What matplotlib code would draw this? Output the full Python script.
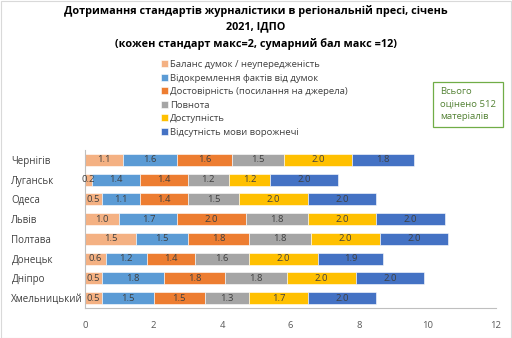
import matplotlib
matplotlib.use("Agg")
import matplotlib.pyplot as plt
from matplotlib.patches import Rectangle

cities = ["Чернігів", "Луганськ", "Одеса", "Львів", "Полтава", "Донецьк", "Дніпро", "Хмельницький"]
series_names = ["Баланс думок / неупередженість", "Відокремлення фактів від думок",
                "Достовірність (посилання на джерела)", "Повнота", "Доступність",
                "Відсутність мови ворожнечі"]
balance = [1.1, 0.2, 0.5, 1.0, 1.5, 0.6, 0.5, 0.5]
separation = [1.6, 1.4, 1.1, 1.7, 1.5, 1.2, 1.8, 1.5]
reliability = [1.6, 1.4, 1.4, 2.0, 1.8, 1.4, 1.8, 1.5]
completeness = [1.5, 1.2, 1.5, 1.8, 1.8, 1.6, 1.8, 1.3]
accessibility = [2.0, 1.2, 2.0, 2.0, 2.0, 2.0, 2.0, 1.7]
no_hate = [1.8, 2.0, 2.0, 2.0, 2.0, 1.9, 2.0, 2.0]
x_ticks = [0, 2, 4, 6, 8, 10, 12]

colors = ["#F4B183", "#5B9BD5", "#ED7D31", "#A5A5A5", "#FFC000", "#4472C4"]
series = [balance, separation, reliability, completeness, accessibility, no_hate]

plt.rcParams['font.family'] = ['Open Sans', 'DejaVu Sans']
fig = plt.figure(figsize=(5.12, 3.38), dpi=100)
ax = fig.add_axes([85/512, 1-308/338, (496-85)/512, (308-150)/338])

ypos = list(range(len(cities)))
left = [0.0]*len(cities)
handles = []
for vals, col, name in zip(series, colors, series_names):
    bars = ax.barh(ypos, vals, left=left, height=0.62, color=col, label=name,
                   edgecolor='white', linewidth=0.4)
    handles.append(bars)
    for y, v, l in zip(ypos, vals, left):
        ax.text(l + v/2, y, f"{v:.1f}", ha='center', va='center', fontsize=6.8, color='#404040')
    left = [a+b for a, b in zip(left, vals)]

ax.set_ylim(len(cities)-0.5, -0.5)
ax.set_xlim(0, 12)
ax.set_xticks(x_ticks)
ax.set_xticklabels([str(t) for t in x_ticks], fontsize=6.8, color='#595959')
ax.set_yticks(ypos)
ax.set_yticklabels(cities, fontsize=7, color='#404040')
ax.tick_params(axis='y', length=0, pad=53)
for lab in ax.get_yticklabels():
    lab.set_ha('left')
ax.tick_params(axis='x', length=0, pad=9)
for s in ['top', 'right']:
    ax.spines[s].set_visible(False)
for s in ['left', 'bottom']:
    ax.spines[s].set_color('#BFBFBF')
    ax.spines[s].set_linewidth(0.8)

fig.text(0.5, 1-11/338, "Дотримання стандартів журналістики в регіональній пресі, січень",
         ha='center', va='center', fontsize=7.8, fontweight='bold', color='#000000')
fig.text(0.5, 1-27/338, "2021, ІДПО", ha='center', va='center', fontsize=7.8, fontweight='bold')
fig.text(0.5, 1-44/338, "(кожен стандарт макс=2, сумарний бал макс =12)", ha='center', va='center',
         fontsize=7.8, fontweight='bold')

leg = fig.legend(handles=handles, labels=series_names, loc='upper left',
                 bbox_to_anchor=(161/512, 1-60/338), frameon=False, fontsize=6.8,
                 handlelength=0.75, handleheight=0.75, handletextpad=0.2, labelspacing=0.48,
                 borderaxespad=0, borderpad=0)
for t in leg.get_texts():
    t.set_color('#404040')

fig.patches.append(Rectangle((433/512, 1-127/338), 70/512, 45/338, transform=fig.transFigure,
                             fill=False, edgecolor='#70AD47', linewidth=0.9))
fig.text(440/512, 1-104/338, "Всього\nоцінено 512\nматеріалів", ha='left', va='center',
         fontsize=6.8, color='#548235', linespacing=1.55)

fig.patches.append(Rectangle((0.5/512, 0.5/338), 510/512, 337/338, transform=fig.transFigure,
                             fill=False, edgecolor='#D9D9D9', linewidth=0.8))

fig.savefig("out.png", dpi=100)
